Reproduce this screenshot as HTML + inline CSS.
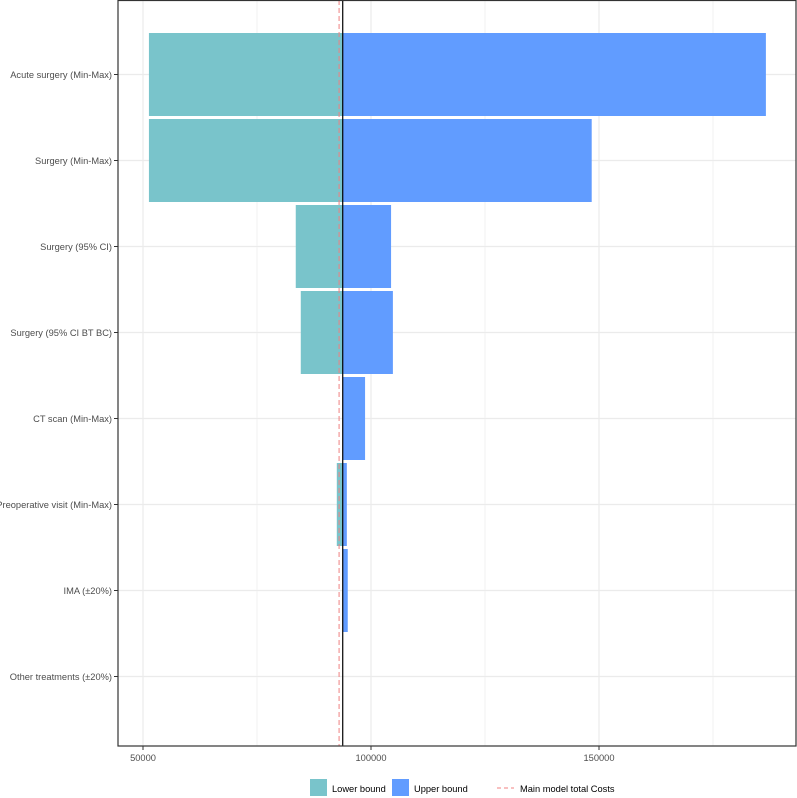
<!DOCTYPE html>
<html><head><meta charset="utf-8"><style>
body{margin:0;background:#fff;}
svg{display:block;font-family:"Liberation Sans",Arial,sans-serif;}
</style></head><body>
<svg id="chart" width="797" height="798"></svg>
<script>
const categories=["Acute surgery (Min-Max)","Surgery (Min-Max)","Surgery (95% CI)","Surgery (95% CI BT BC)","CT scan (Min-Max)","Preoperative visit (Min-Max)","IMA (±20%)","Other treatments (±20%)"];
const lowerValues=[51300,51300,83500,84600,93800,92500,93800,93800];
const upperValues=[186600,148400,104400,104800,98700,94700,94900,93800];
const baseValue=93800;
const mainModelValue=93000;
const xTicks=[50000,100000,150000];
const xMinor=[75000,125000,175000];

const NS="http://www.w3.org/2000/svg";
const svg=document.getElementById('chart');
const L=118,R=796,T=0,B=746;
function x(v){return 143+(v-50000)*228/50000;}
function yc(i){return 74.5+i*86;}
const bh=83;
function mk(tag,attrs,parent){const e=document.createElementNS(NS,tag);for(const k in attrs)e.setAttribute(k,attrs[k]);(parent||svg).appendChild(e);return e;}

mk('rect',{x:L,y:T,width:R-L,height:B-T,fill:'#fff'});
xMinor.forEach(v=>{const g=mk('line',{x1:x(v),x2:x(v),y1:T,y2:B,stroke:'#f2f2f2','stroke-width':1});

});
xTicks.forEach(v=>{const g=mk('line',{x1:x(v),x2:x(v),y1:T,y2:B,stroke:'#ebebeb','stroke-width':1.2});

});
categories.forEach((c,i)=>{const g=mk('line',{x1:L,x2:R,y1:yc(i),y2:yc(i),stroke:'#ebebeb','stroke-width':1.2});

});

categories.forEach((c,i)=>{
  const lo=lowerValues[i],up=upperValues[i];
  const r1=mk('rect',{x:Math.min(x(lo),x(baseValue)),y:yc(i)-bh/2,width:Math.abs(x(baseValue)-x(lo)),height:bh,fill:'#79C4CB'});
  
  
  const r2=mk('rect',{x:Math.min(x(up),x(baseValue)),y:yc(i)-bh/2,width:Math.abs(x(up)-x(baseValue)),height:bh,fill:'#619CFF'});
  
  
  const t=mk('text',{x:112,y:yc(i)+3.5,'text-anchor':'end','font-size':'9.3px',fill:'#4d4d4d'});
  t.textContent=c;
  
  
  const tk=mk('line',{x1:114,x2:118,y1:yc(i),y2:yc(i),stroke:'#333'});
  
  
});

const dl=mk('line',{x1:x(mainModelValue),x2:x(mainModelValue),y1:T,y2:B,stroke:'#F08080','stroke-width':1,'stroke-dasharray':'5,3'});


const bl=mk('line',{x1:x(baseValue),x2:x(baseValue),y1:T,y2:B,stroke:'#000','stroke-width':1.2});



const border=mk('rect',{x:L,y:T+0.5,width:R-L,height:B-T-0.5,fill:'none',stroke:'#333','stroke-width':1.2});



xTicks.forEach(v=>{
  const tk=mk('line',{x1:x(v),x2:x(v),y1:B,y2:B+4,stroke:'#333'});
  
  
  const t=mk('text',{x:x(v),y:B+15,'text-anchor':'middle','font-size':'9.3px',fill:'#4d4d4d'});
  t.textContent=v;
  
  
});

const lg=mk('g',{});


const k1=mk('rect',{x:310,y:779,width:17,height:17,fill:'#79C4CB'},lg);


const t1=mk('text',{x:332,y:792,'font-size':'9.3px',fill:'#000'},lg);t1.textContent='Lower bound';


const k2=mk('rect',{x:392,y:779,width:17,height:17,fill:'#619CFF'},lg);


const t2=mk('text',{x:414,y:792,'font-size':'9.3px',fill:'#000'},lg);t2.textContent='Upper bound';


const k3=mk('line',{x1:497,x2:514,y1:788,y2:788,stroke:'#F08080','stroke-dasharray':'4,3'},lg);


const t3=mk('text',{x:520,y:792,'font-size':'9.3px',fill:'#000'},lg);t3.textContent='Main model total Costs';


</script>
</body></html>
